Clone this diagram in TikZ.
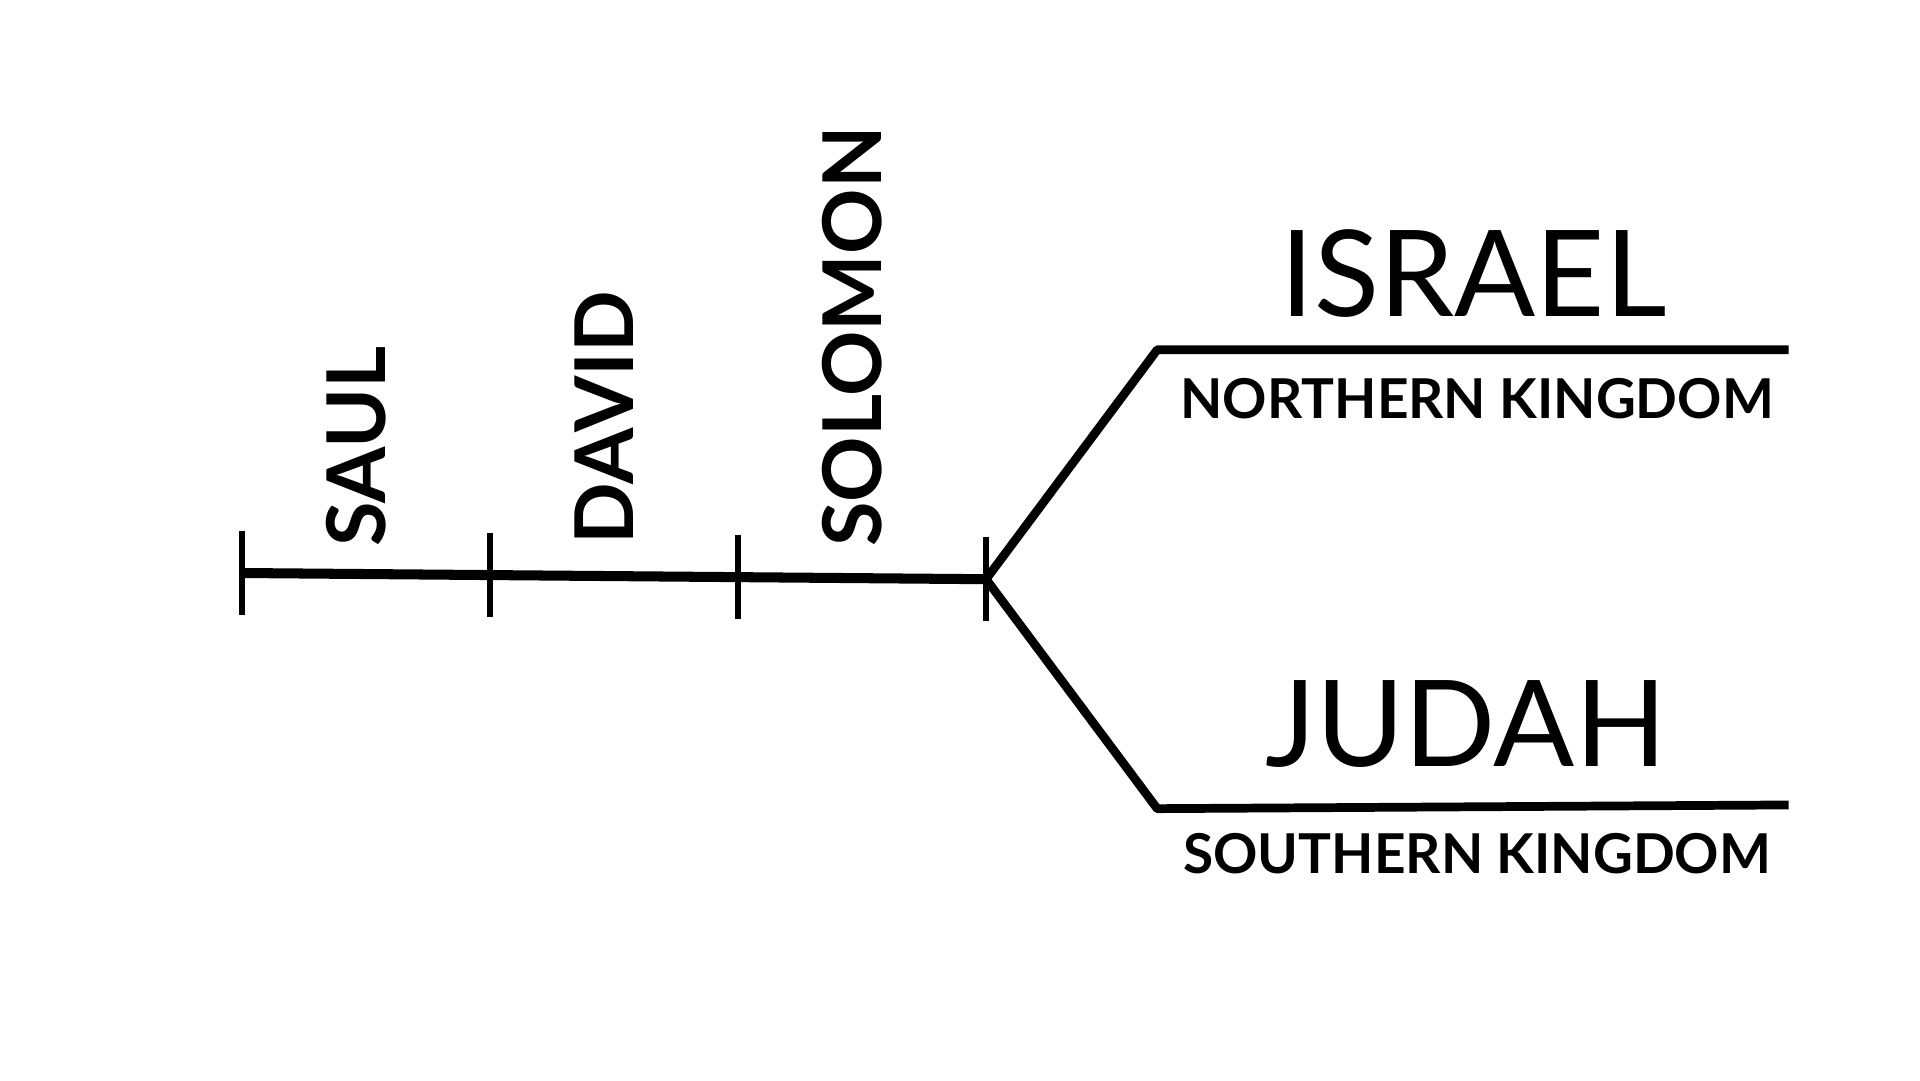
\documentclass[tikz,border=0pt]{standalone}
\usepackage{fontspec}
\setmainfont{Lato}
\usetikzlibrary{positioning}

\begin{document}
\begin{tikzpicture}[x=0.01cm,y=-0.01cm,
      every node/.append style={inner sep=0pt,outer sep=0pt}]
    \tikzstyle{king} = [font=\fontsize{18.6}{19}\selectfont\bfseries,rotate=90,anchor=west]
    \tikzstyle{realm} = [font=\fontsize{27.5}{28}\selectfont,anchor=base]
    \tikzstyle{sub} = [font=\fontsize{12.6}{13}\selectfont\bfseries,anchor=north]
    \tikzstyle{tick} = [line width=1.5pt]
    \useasboundingbox (0,0) rectangle (1548,871);
    \coordinate (start) at (195,462);
    \coordinate (t1) at (395,463.5);
    \coordinate (t2) at (595,465);
    \coordinate (split) at (795,467);
    \coordinate (nbend) at (933,282);
    \coordinate (nend) at (1442,282);
    \coordinate (sbend) at (933,652);
    \coordinate (send) at (1442,649);
    \draw [line width=2.3pt] (start) -- (split);
    \foreach \p in {start,t1,t2,split}
      \draw [tick] ([yshift=0.34cm]\p) -- ([yshift=-0.34cm]\p);
    \draw [line width=2pt,line join=round] (split) -- (nbend) -- (nend);
    \draw [line width=2pt,line join=round] (split) -- (sbend) -- (send);
    \node [king] (saul) at (287,441) {SAUL};
    \node [king] (david) at (487,439) {DAVID};
    \node [king] (solomon) at (687,441) {SOLOMON};
    \node [realm] (israel) at (1188,255) {ISRAEL};
    \node [sub] (north) at (1191,305) {NORTHERN KINGDOM};
    \node [realm] (judah) at (1182,618) {JUDAH};
    \node [sub] (south) at (1191,672) {SOUTHERN KINGDOM};
\end{tikzpicture}
\end{document}
